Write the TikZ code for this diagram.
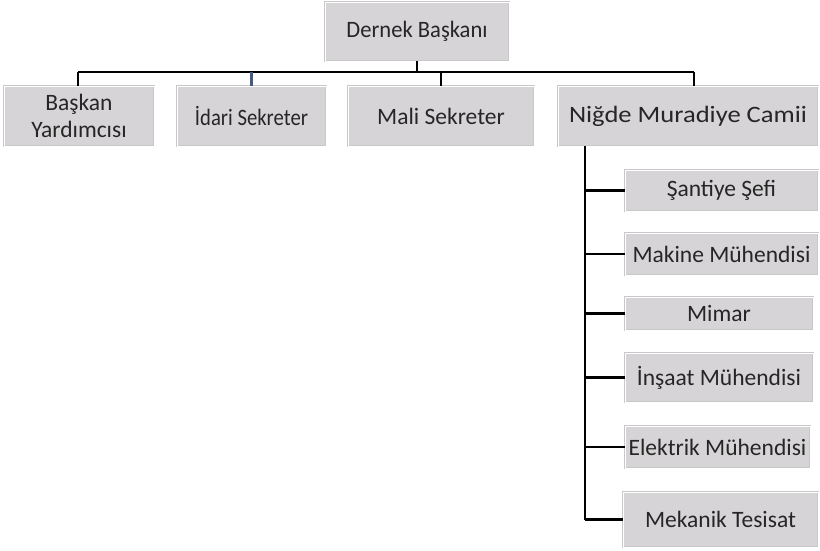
\documentclass[tikz,border=0pt]{standalone}
\usepackage{fontspec}
\setmainfont{Carlito}
\definecolor{boxfill}{RGB}{214,212,214}
\definecolor{boxedge}{RGB}{200,200,200}
\definecolor{linkblue}{RGB}{68,90,130}
\definecolor{txt}{RGB}{38,38,38}
\begin{document}
\begin{tikzpicture}[x=1pt,y=-1pt,
  unit/.style={fill=boxfill,draw=boxedge,double=white,double distance=1pt,
    line width=0.5pt,inner sep=2pt,text=txt,font=\fontsize{23.5}{27}\selectfont,
    align=center,anchor=center},
  link/.style={line width=2.4pt,black}]
\useasboundingbox (0,0) rectangle (820,550);
% top level
\node[unit,minimum width=184,minimum height=59] (boss) at (417,31.5) {\scalebox{0.96}[1]{Dernek Başkanı}};
\node[unit,minimum width=150,minimum height=60] (vp) at (79,116) {Başkan\\Yardımcısı};
\node[unit,minimum width=149,minimum height=60] (idari) at (251.5,116) {\scalebox{0.88}[1]{İdari Sekreter}};
\node[unit,minimum width=186,minimum height=60] (mali) at (441,116) {Mali Sekreter};
\node[unit,minimum width=260,minimum height=60] (nigde) at (688,116) {\scalebox{1.13}[1]{Niğde Muradiye Camii}};
% units under the mosque project
\node[unit,minimum width=193,minimum height=41] (santiye) at (721.5,190.5) {Şantiye Şefi};
\node[unit,minimum width=193,minimum height=42] (makine) at (721.5,254) {Makine Mühendisi};
\node[unit,minimum width=188,minimum height=33] (mimar) at (719,313.5) {Mimar};
\node[unit,minimum width=188,minimum height=49] (insaat) at (719,377.5) {İnşaat Mühendisi};
\node[unit,minimum width=185,minimum height=42] (elektrik) at (717.5,447) {Elektrik Mühendisi};
\node[unit,minimum width=195,minimum height=55] (mekanik) at (720.5,519.5) {Mekanik Tesisat};
% bus below the president
\coordinate (bus) at (417,72);
\coordinate (busL) at (78,72);
\coordinate (busR) at (694,72);
\draw[link] (boss.south) -- (bus);
\draw[link] (busL) -- (busR);
\draw[link] (busL) -- (busL |- vp.north);
\draw[line width=2.4pt,linkblue] (idari.north |- bus) -- (idari.north);
\draw[link] (mali.north |- bus) -- (mali.north);
\draw[link] (busR) -- (busR |- nigde.north);
% spine of the project branch
\coordinate (spine) at (585,146);
\coordinate (spineEnd) at (585,520);
\draw[link] (spine) -- (spineEnd);
\foreach \n in {santiye,makine,mimar,insaat,elektrik,mekanik}
  \draw[link] (spine |- \n.west) -- (\n.west);
\end{tikzpicture}
\end{document}
